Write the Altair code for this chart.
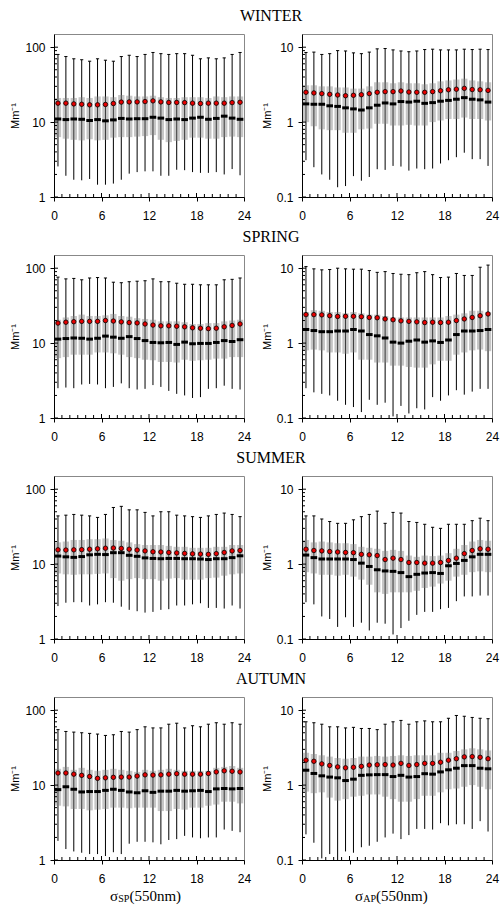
import altair as alt
import pandas as pd

HOURS = list(range(24))
SEASONS = ["WINTER", "SPRING", "SUMMER", "AUTUMN"]

# ---------------- WINTER ----------------
WIN_SP_MEAN = [17.9,17.9,17.5,17.3,17.0,17.0,17.2,17.7,18.5,18.6,18.6,18.8,19.2,18.6,18.3,18.3,18.2,17.9,17.7,17.9,17.9,17.9,18.2,18.4]
WIN_SP_MED = [11.0,10.8,11.0,10.9,10.5,10.8,10.4,10.7,11.2,11.0,11.1,11.1,11.6,11.3,10.8,11.0,10.8,11.3,11.6,10.9,11.2,12.0,11.3,10.9]
WIN_SP_P75 = [21,21,21,21.5,21,22,22,21.5,23,22.5,22,22,22.5,21.5,21,21,21.5,21.5,21.5,21,22,21.5,22,22]
WIN_SP_P25 = [6.3,6.0,5.8,5.7,5.9,5.7,5.8,6.2,6.3,6.3,6.4,6.5,6.7,5.8,5.4,5.6,5.8,6.2,6.2,6.0,6.0,6.3,6.4,6.3]
WIN_SP_P95 = [80,75,70,68,65,70,67,65,75,78,75,80,85,82,80,82,82,78,70,72,70,72,80,85]
WIN_SP_P5 = [2.56,1.92,1.70,1.67,1.74,1.46,1.46,1.51,1.70,2.05,2.15,2.2,2.2,1.92,1.92,2.31,2.28,2.15,2.1,2.1,2.15,2.0,2.36,1.95]

WIN_AP_MEAN = [2.5,2.45,2.4,2.35,2.3,2.25,2.28,2.32,2.4,2.5,2.55,2.55,2.6,2.52,2.5,2.5,2.55,2.62,2.7,2.75,2.82,2.72,2.7,2.65]
WIN_AP_MED = [1.75,1.73,1.73,1.65,1.62,1.55,1.5,1.45,1.55,1.68,1.8,1.75,1.88,1.85,1.9,1.78,1.82,1.9,1.95,2.02,2.12,2.02,1.98,1.85]
WIN_AP_P75 = [3.1,3.1,3.0,3.0,2.9,2.9,2.8,2.8,3.0,3.4,3.4,3.3,3.4,3.3,3.3,3.2,3.3,3.5,3.6,3.7,3.8,3.6,3.5,3.4]
WIN_AP_P25 = [1.0,0.88,0.8,0.78,0.78,0.72,0.72,0.8,0.82,0.95,0.95,0.9,0.9,0.92,0.9,0.9,1.0,1.05,1.1,1.1,1.15,1.1,1.1,1.05]
WIN_AP_P95 = [8.5,8.6,8.0,8.2,9.0,8.9,8.4,8.2,8.6,9.5,9.6,9.2,8.9,8.7,8.9,9.3,9.4,9.2,9.2,9.2,9.4,9.3,9.4,9.3]
WIN_AP_P5 = [0.31,0.25,0.2,0.17,0.135,0.14,0.19,0.165,0.185,0.235,0.23,0.26,0.255,0.225,0.24,0.235,0.24,0.28,0.31,0.34,0.39,0.32,0.32,0.26]

# ---------------- SPRING ----------------
SPR_SP_MEAN = [18.5,19,19.3,19.5,19.5,19.5,20,19.7,19.2,18.8,18.6,18.0,17.4,17.0,17.0,16.8,16.5,16.0,15.8,15.6,15.8,16.5,17.2,18.0]
SPR_SP_MED = [11.3,11.5,11.7,11.6,11.3,11.6,12.4,12.0,11.6,12.2,11.5,10.8,10.2,10.1,10.2,9.6,10.3,9.8,9.9,9.9,10.2,10.8,10.5,11.1]
SPR_SP_P75 = [20.5,22,23,24,23,23,23.5,24.5,23,22.5,21.5,21,20.5,19.5,19.5,19.5,19,18,18,18.5,18.5,19.5,20,20.5]
SPR_SP_P25 = [6.3,6.5,7.0,7.0,7.0,7.5,7.5,7.3,7.0,6.5,6.3,6.0,5.9,5.6,5.6,5.5,6.0,5.8,5.9,6.0,6.2,6.2,6.5,6.5]
SPR_SP_P95 = [76,72,73,70,74,75,74,65,64,66,67,68,72,66,66,63,61,61,60,60,60,70,71,74]
SPR_SP_P5 = [2.5,2.55,2.5,2.8,2.85,2.8,2.5,2.6,2.9,2.5,2.4,2.45,2.75,2.6,2.3,2.1,2.0,1.85,1.9,2.45,2.5,2.7,2.45,2.4]

SPR_AP_MEAN = [2.4,2.4,2.38,2.32,2.27,2.28,2.28,2.25,2.2,2.18,2.1,2.05,1.98,1.95,1.92,1.88,1.9,1.88,1.9,2.0,2.1,2.2,2.32,2.45]
SPR_AP_MED = [1.52,1.47,1.42,1.42,1.45,1.45,1.52,1.45,1.3,1.25,1.17,1.03,1.0,1.06,1.1,1.03,1.07,1.02,1.1,1.3,1.45,1.45,1.47,1.52]
SPR_AP_P75 = [2.6,2.75,2.7,2.6,2.6,2.5,2.6,2.5,2.4,2.4,2.3,2.2,2.2,2.2,2.2,2.2,2.2,2.2,2.3,2.4,2.5,2.7,2.7,2.6]
SPR_AP_P25 = [0.8,0.82,0.8,0.75,0.75,0.72,0.75,0.6,0.6,0.55,0.55,0.5,0.5,0.48,0.47,0.47,0.52,0.58,0.58,0.7,0.75,0.8,0.82,0.78]
SPR_AP_P95 = [10.5,9.8,9.5,9.6,10.0,9.8,9.7,9.7,9.3,8.8,9.0,8.5,8.3,8.2,8.7,9.0,8.2,7.5,7.6,8.5,8.0,8.0,10.3,11.0]
SPR_AP_P5 = [0.25,0.22,0.21,0.2,0.17,0.15,0.14,0.12,0.175,0.15,0.16,0.105,0.145,0.115,0.135,0.13,0.19,0.17,0.2,0.235,0.205,0.225,0.245,0.245]

# ---------------- SUMMER ----------------
SUM_SP_MEAN = [15.5,15.4,15.5,15.6,15.8,16.0,16.3,16.4,16.2,15.8,15.4,15.0,14.6,14.5,14.3,14.1,13.9,13.7,13.6,13.5,13.8,14.3,15.0,15.2]
SUM_SP_MED = [12.8,12.5,12.3,12.6,13.3,13.5,13.4,14.2,14.2,13.1,12.7,12.1,11.9,11.8,11.9,11.9,11.8,11.8,11.7,11.5,11.8,11.8,12.2,12.9]
SUM_SP_P75 = [19.5,20,21,21,21.5,21.5,22,21,20.5,19.5,18.5,18,18,18,17.5,17,17,16.5,16.5,16.5,17,17,18,18]
SUM_SP_P25 = [7.5,7.3,7.2,7.3,7.3,7.4,7.5,6.5,6.0,6.3,6.5,6.3,6.3,6.0,6.4,6.5,6.2,6.2,6.2,6.5,6.6,7.0,7.3,7.5]
SUM_SP_P95 = [44,45,46,45,44,42,46,57,59,53,53,49,44,50,50,45,44,43,42,44,46,48,46,43]
SUM_SP_P5 = [2.75,3.05,3.1,3.1,2.8,2.9,3.1,3.05,2.7,2.45,2.35,2.25,2.3,2.45,2.5,2.8,2.8,2.9,3.0,2.6,2.6,2.55,2.8,2.55]

SUM_AP_MEAN = [1.58,1.52,1.5,1.47,1.45,1.43,1.42,1.35,1.33,1.3,1.15,1.2,1.15,1.05,1.05,1.03,1.03,1.05,1.12,1.2,1.38,1.52,1.6,1.58]
SUM_AP_MED = [1.32,1.22,1.17,1.17,1.17,1.17,1.15,1.03,0.93,0.84,0.81,0.8,0.77,0.68,0.73,0.76,0.77,0.75,0.95,1.02,1.12,1.25,1.35,1.35]
SUM_AP_P75 = [2.1,1.95,2.0,1.95,1.9,1.9,1.85,1.7,1.65,1.6,1.5,1.55,1.5,1.3,1.25,1.3,1.28,1.3,1.4,1.6,1.8,2.0,2.1,2.05]
SUM_AP_P25 = [0.78,0.75,0.72,0.72,0.7,0.72,0.68,0.62,0.53,0.42,0.4,0.42,0.42,0.42,0.44,0.48,0.5,0.55,0.6,0.68,0.72,0.78,0.8,0.78]
SUM_AP_P95 = [4.4,4.4,4.0,3.7,3.5,3.5,3.9,4.3,4.6,5.1,3.5,4.9,4.8,3.7,3.6,3.4,3.1,3.0,3.4,3.4,3.4,3.8,4.1,3.8]
SUM_AP_P5 = [0.31,0.29,0.2,0.185,0.145,0.195,0.145,0.165,0.13,0.165,0.16,0.115,0.14,0.175,0.21,0.23,0.23,0.25,0.26,0.32,0.37,0.37,0.38,0.38]

# ---------------- AUTUMN ----------------
AUT_SP_MEAN = [14.5,14.5,14,13.5,13.0,12.3,12.5,12.7,12.8,12.8,13.2,13.7,13.6,13.7,14.0,14.2,14.0,14.0,14.0,14.3,15.0,15.5,15.3,15.0]
AUT_SP_MED = [8.7,9.5,8.8,8.1,8.2,8.2,8.5,8.8,8.5,8.1,7.9,8.4,8.0,8.3,8.3,8.5,8.3,8.4,8.5,8.2,8.9,9.0,8.9,9.0]
AUT_SP_P75 = [16.5,17.5,16,17,16,15.5,16,16.5,16,15.5,15,16,15.5,16,16.5,16,15.5,15.5,15.5,15.5,17,17.5,18,17]
AUT_SP_P25 = [5.3,5.2,4.8,4.8,4.6,4.7,4.8,5.0,5.0,4.9,5.0,5.0,5.0,4.5,4.5,4.8,4.7,5.0,5.0,5.3,5.5,6.0,6.0,5.7]
AUT_SP_P95 = [55,52,51,50,49,48,46,47,52,51,55,60,58,58,65,67,58,62,60,65,68,65,68,65]
AUT_SP_P5 = [1.8,1.4,1.3,1.25,1.2,1.2,1.13,1.27,1.2,1.65,1.75,1.75,1.72,1.62,1.85,1.9,2.1,2.0,1.95,2.0,2.0,2.55,2.45,2.35]

AUT_AP_MEAN = [2.15,2.08,1.92,1.83,1.75,1.7,1.73,1.78,1.85,1.87,1.88,1.85,1.95,1.83,1.88,1.95,1.95,2.02,2.15,2.25,2.38,2.4,2.35,2.25]
AUT_AP_MED = [1.58,1.43,1.33,1.28,1.25,1.15,1.2,1.35,1.37,1.38,1.38,1.3,1.35,1.28,1.3,1.42,1.4,1.5,1.6,1.68,1.82,1.82,1.68,1.65]
AUT_AP_P75 = [2.7,2.6,2.5,2.4,2.3,2.25,2.3,2.4,2.4,2.45,2.4,2.45,2.5,2.45,2.5,2.5,2.5,2.7,2.7,2.85,3.0,3.1,3.0,2.9]
AUT_AP_P25 = [0.82,0.78,0.8,0.68,0.62,0.65,0.7,0.72,0.75,0.75,0.7,0.65,0.6,0.6,0.65,0.72,0.72,0.8,0.88,0.9,0.95,1.0,0.95,0.88]
AUT_AP_P95 = [7.0,6.8,6.5,6.0,6.0,5.8,5.9,5.7,5.7,5.5,6.5,7.0,7.3,6.5,7.0,7.2,7.0,7.0,7.8,8.5,8.3,8.0,7.8,7.7]
AUT_AP_P5 = [0.22,0.17,0.105,0.12,0.1,0.13,0.125,0.148,0.155,0.175,0.2,0.225,0.19,0.215,0.26,0.26,0.255,0.31,0.29,0.3,0.3,0.26,0.33,0.24]

# ---------------- axes ----------------
SP_DOMAIN = [1, 150]
AP_DOMAIN = [0.1, 15]
SP_TICKS = [1, 10, 100]
AP_TICKS = [0.1, 1, 10]
SP_MINOR = [2, 3, 4, 5, 6, 7, 8, 9, 20, 30, 40, 50, 60, 70, 80, 90]
AP_MINOR = [0.2, 0.3, 0.4, 0.5, 0.6, 0.7, 0.8, 0.9, 2, 3, 4, 5, 6, 7, 8, 9]
X_TICKS = [0, 6, 12, 18, 24]
X_MINOR = [h for h in range(1, 24) if h % 6]

W, H = 190, 163
SERIF = "Liberation Serif"
SANS = "Liberation Sans"


def text_layer(txt, x, y, size, align="center"):
    return alt.Chart(alt.Data(values=[{}])).mark_text(
        text=txt, font=SERIF, fontSize=size, align=align, baseline="alphabetic", color="black"
    ).encode(x=alt.value(x), y=alt.value(y))


def panel(stats, ydom, yticks, yminor, season, sub, sub_x):
    mean, med, p5, p25, p75, p95 = stats
    df = pd.DataFrame({"hour": HOURS, "mean": mean, "med": med, "p5": p5,
                       "p25": p25, "p75": p75, "p95": p95})
    df["xc"] = df["hour"] + 0.5
    df["xl"] = df["hour"] + 0.1
    df["xr"] = df["hour"] + 0.9
    df["ml"] = df["hour"] + 0.08
    df["mr"] = df["hour"] + 0.92
    df["cl"] = df["hour"] + 0.3
    df["cr"] = df["hour"] + 0.7

    xs = alt.Scale(domain=[0, 24], nice=False, zero=False)
    ys = alt.Scale(type="log", domain=ydom, nice=False)
    xaxis = alt.Axis(values=X_TICKS, title=None, labelFlush=False, tickSize=4,
                     labelPadding=9, grid=False, labelFontSize=12)
    yaxis = alt.Axis(values=yticks, format="~g", title="Mm⁻¹", titleFontSize=11,
                     titleFontWeight="normal", tickSize=4, labelPadding=5,
                     titlePadding=4, grid=False, labelFlush=False, labelFontSize=12)

    def X(f):
        return alt.X(f, type="quantitative", scale=xs, axis=xaxis)

    def Y(f):
        return alt.Y(f, type="quantitative", scale=ys, axis=yaxis)

    base = alt.Chart(df)
    whisk = base.mark_rule(color="black", strokeWidth=1).encode(
        x=X("xc"), y=Y("p5"), y2="p95:Q")
    box = base.mark_rect(color="#808080", opacity=0.45).encode(
        x=X("xl"), x2="xr:Q", y=Y("p25"), y2="p75:Q")
    medm = base.mark_rule(color="black", strokeWidth=3).encode(
        x=X("ml"), x2="mr:Q", y=Y("med"))
    cap = base.mark_rule(color="black", strokeWidth=1).encode(
        x=X("cl"), x2="cr:Q", y=Y("p95"))
    meanm = base.mark_point(shape="circle", filled=True, fill="#e60000", stroke="black",
                            strokeWidth=0.8, size=20, opacity=1).encode(
        x=X("xc"), y=Y("mean"))

    yminor_l = alt.Chart(pd.DataFrame({"v": yminor})).mark_rule(color="black").encode(
        y=Y("v"), x=alt.value(0), x2=alt.value(3))
    ymajor_l = alt.Chart(pd.DataFrame({"v": yticks})).mark_rule(color="black").encode(
        y=Y("v"), x=alt.value(0), x2=alt.value(4))
    xminor_l = alt.Chart(pd.DataFrame({"v": X_MINOR})).mark_rule(color="black").encode(
        x=X("v"), y=alt.value(H), y2=alt.value(H - 3))
    xmajor_l = alt.Chart(pd.DataFrame({"v": X_TICKS[1:-1]})).mark_rule(color="black").encode(
        x=X("v"), y=alt.value(H), y2=alt.value(H - 4))

    layers = [whisk, box, medm, cap, meanm, yminor_l, ymajor_l, xminor_l, xmajor_l]
    if season:
        layers.append(text_layer(season, 217, -13, 16))
    if sub:
        layers.append(text_layer("σ", sub_x, H + 41, 15, "left"))
        layers.append(text_layer(sub, sub_x + 8.2, H + 41.5, 10, "left"))
        layers.append(text_layer("(550nm)", sub_x + 8.2 + (11.2 if sub == "SP" else 12.8), H + 41, 15, "left"))
    return alt.layer(*layers).properties(width=W, height=H)


ALL = [
    ((WIN_SP_MEAN, WIN_SP_MED, WIN_SP_P5, WIN_SP_P25, WIN_SP_P75, WIN_SP_P95),
     (WIN_AP_MEAN, WIN_AP_MED, WIN_AP_P5, WIN_AP_P25, WIN_AP_P75, WIN_AP_P95)),
    ((SPR_SP_MEAN, SPR_SP_MED, SPR_SP_P5, SPR_SP_P25, SPR_SP_P75, SPR_SP_P95),
     (SPR_AP_MEAN, SPR_AP_MED, SPR_AP_P5, SPR_AP_P25, SPR_AP_P75, SPR_AP_P95)),
    ((SUM_SP_MEAN, SUM_SP_MED, SUM_SP_P5, SUM_SP_P25, SUM_SP_P75, SUM_SP_P95),
     (SUM_AP_MEAN, SUM_AP_MED, SUM_AP_P5, SUM_AP_P25, SUM_AP_P75, SUM_AP_P95)),
    ((AUT_SP_MEAN, AUT_SP_MED, AUT_SP_P5, AUT_SP_P25, AUT_SP_P75, AUT_SP_P95),
     (AUT_AP_MEAN, AUT_AP_MED, AUT_AP_P5, AUT_AP_P25, AUT_AP_P75, AUT_AP_P95)),
]

panels = []
for i, (sp, ap) in enumerate(ALL):
    last = i == len(ALL) - 1
    panels.append(panel(sp, SP_DOMAIN, SP_TICKS, SP_MINOR, SEASONS[i],
                        "SP" if last else None, 56))
    panels.append(panel(ap, AP_DOMAIN, AP_TICKS, AP_MINOR, None,
                        "AP" if last else None, 53))

chart = alt.concat(*panels, columns=2, spacing={"row": 58, "column": 58},
                   bounds="flush").properties(
    padding={"left": 9, "top": 7, "right": 0, "bottom": 0}
).configure_view(stroke="#888888", strokeWidth=1).configure_axis(
    domainColor="black", tickColor="black", labelColor="black", titleColor="black",
    labelFont=SANS, titleFont=SANS, grid=False
)

chart.save("out.html", embed_options={"renderer": "svg", "actions": False})
